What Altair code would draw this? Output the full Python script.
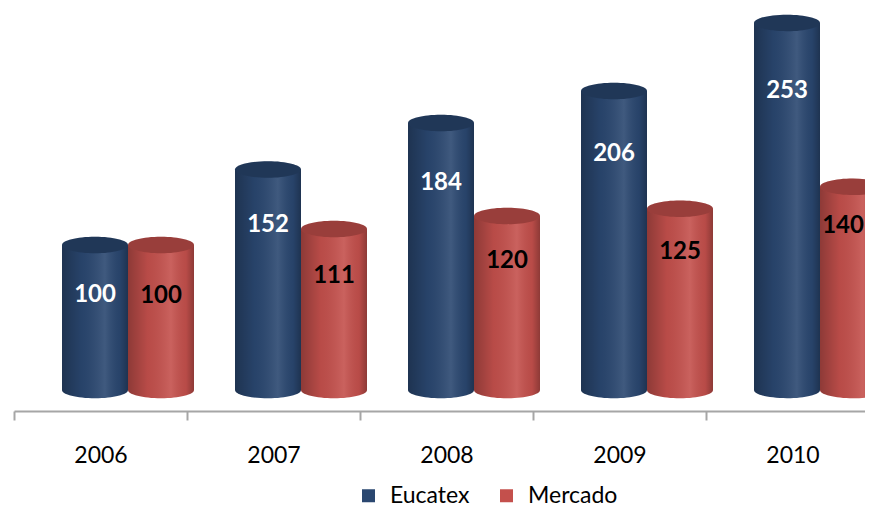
import altair as alt
import pandas as pd

years = ["2006", "2007", "2008", "2009", "2010"]
series = ["Eucatex", "Mercado"]
eucatex = [100, 152, 184, 206, 253]
mercado = [100, 111, 120, 125, 140]
colors = ["#2a4770", "#c4504c"]
label_colors = ["white", "black"]

rows = []
for i, yr in enumerate(years):
    rows.append({"year": yr, "series": "Eucatex", "value": eucatex[i], "base": 0})
    rows.append({"year": yr, "series": "Mercado", "value": mercado[i], "base": 0})
df = pd.DataFrame(rows)

ELL = "M-1,0A1,0.25,0,1,1,1,0A1,0.25,0,1,1,-1,0Z"
BAR_W = 66
SIZE = BAR_W * BAR_W

shade = alt.Gradient(
    gradient="linear",
    x1=0, x2=1, y1=0, y2=0,
    stops=[
        alt.GradientStop(color="rgba(0,0,0,0.28)", offset=0),
        alt.GradientStop(color="rgba(0,0,0,0.06)", offset=0.3),
        alt.GradientStop(color="rgba(255,255,255,0.10)", offset=0.65),
        alt.GradientStop(color="rgba(0,0,0,0.06)", offset=0.88),
        alt.GradientStop(color="rgba(0,0,0,0.28)", offset=1),
    ],
)

x = alt.X(
    "year:N", sort=years, title=None,
    scale=alt.Scale(range=[0, 865], paddingInner=0, paddingOuter=0),
    axis=alt.Axis(labelAngle=0, tickBand="extent", domainColor="#a6a6a6",
                  tickColor="#a6a6a6", domainWidth=2, tickWidth=2, tickSize=9,
                  labelFont="Lato", labelFontSize=23, labelColor="black",
                  labelPadding=24, grid=False),
)
xoff = alt.XOffset("series:N", sort=series,
                   scale=alt.Scale(range=[48, 180], paddingInner=0, paddingOuter=0))
yscale = alt.Scale(domain=[-14.5, 263.3], nice=False, zero=False)
color = alt.Color(
    "series:N", sort=series, title=None,
    scale=alt.Scale(domain=series, range=colors),
    legend=alt.Legend(orient="none", legendX=343, legendY=476, direction="horizontal",
                      symbolType="square", symbolSize=169, symbolStrokeWidth=0,
                      labelFont="Lato", labelFontSize=23, labelColor="black",
                      labelOffset=10, columnPadding=25, padding=0),
)

# label anchor inside each cylinder (layout only)
lab_expr = ["0.917 * datum.value - 26", "1.204 * datum.value - 55.4"]

layers = []
for k, s in enumerate(series):
    base = alt.Chart(df).transform_filter(alt.datum.series == s)
    bottom = base.mark_point(shape=ELL, size=SIZE, filled=True, opacity=1, strokeWidth=0).encode(
        x=x, xOffset=xoff, y=alt.Y("base:Q", scale=yscale, axis=None), color=color)
    bottom_sh = base.mark_point(shape=ELL, size=SIZE, filled=True, opacity=1, strokeWidth=0, fill=shade).encode(
        x=x, xOffset=xoff, y=alt.Y("base:Q", scale=yscale, axis=None))
    body = base.mark_bar(strokeWidth=0).encode(
        x=x, xOffset=xoff, y=alt.Y("value:Q", scale=yscale, axis=None), y2="base:Q", color=color)
    body_sh = base.mark_bar(strokeWidth=0, fill=shade).encode(
        x=x, xOffset=xoff, y=alt.Y("value:Q", scale=yscale, axis=None), y2="base:Q")
    top = base.mark_point(shape=ELL, size=SIZE, filled=True, opacity=1, strokeWidth=0).encode(
        x=x, xOffset=xoff, y=alt.Y("value:Q", scale=yscale, axis=None), color=color)
    top_dk = base.mark_point(shape=ELL, size=SIZE, filled=True, opacity=0.22, strokeWidth=0, fill="black").encode(
        x=x, xOffset=xoff, y=alt.Y("value:Q", scale=yscale, axis=None))
    layers += [bottom, bottom_sh, body, body_sh, top, top_dk]
    labbase = base.transform_calculate(lab=lab_expr[k])
    inner = labbase.transform_filter(alt.datum.year != years[-1]).mark_text(
        font="Lato", fontSize=24, fontWeight="bold", color=label_colors[k], baseline="middle").encode(
        x=x, xOffset=xoff, y=alt.Y("lab:Q", scale=yscale, axis=None), text="value:Q")
    last = labbase.transform_filter(alt.datum.year == years[-1]).mark_text(
        font="Lato", fontSize=24, fontWeight="bold", color=label_colors[k], baseline="middle",
        dx=0 if k == 0 else -10).encode(
        x=x, xOffset=xoff, y=alt.Y("lab:Q", scale=yscale, axis=None), text="value:Q")
    layers += [inner, last]

chart = alt.layer(*layers).properties(
    width=851, height=403,
    autosize=alt.AutoSizeParams(type="none"),
    padding={"left": 6, "top": 0, "right": 0, "bottom": 97},
).configure_view(stroke=None)

chart.save("out.html", embed_options={"renderer": "svg", "actions": False})
